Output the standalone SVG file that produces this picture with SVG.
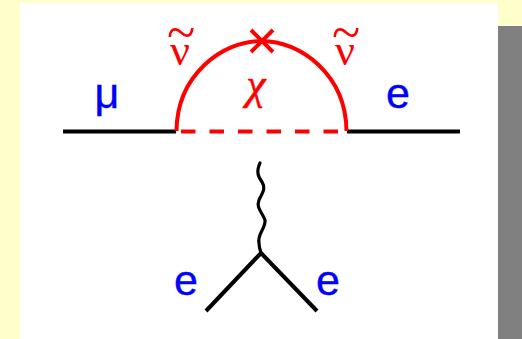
<svg xmlns="http://www.w3.org/2000/svg" width="522" height="339" viewBox="0 0 522 339">
<style>
.blk{fill:none;stroke:#000;stroke-width:4;stroke-linecap:butt}
.red{fill:none;stroke:#f00;stroke-width:4}
.lb{font-family:"Liberation Sans",Arial,sans-serif;font-size:43px;fill:#00f;stroke:#00f;stroke-width:.4;text-anchor:middle}
.gr{font-family:"Liberation Serif","Times New Roman",serif;fill:#f00;text-anchor:middle;font-size:44px}
</style>
<rect width="522" height="339" fill="#ffffcc"/>
<rect x="20" y="3" width="478" height="336" fill="#fff"/>
<rect x="498" y="26" width="24" height="313" fill="#808080"/>
<g id="connectors">
<path class="blk" d="M63 131.500H176"/>
<path class="blk" d="M347 131.500H460"/>
<path class="red" d="M176.500 131C177 75 222 41 261.500 41C301 41 346 75 346.500 131"/>
<path class="red" d="M181 131.500H342" stroke-dasharray="14.500 14"/>
<path class="red" stroke-width="5" d="M251 30L273 52M273 30L251 52"/>
<path d="M260 163C256 172 258 176 262 182C266 188 263 192 259 200C256 208 262 212 265 220C266 228 257 234 259 243C259 247 260 250 261 253" fill="none" stroke="#000" stroke-width="3.200" stroke-linecap="round"/>
<path class="blk" d="M206 311L261 253L317 311" stroke-linecap="round"/>
</g>
<g id="label-mu"><text class="lb" x="107" y="108">μ</text></g>
<g id="label-e-top"><text class="lb" x="398" y="108">e</text></g>
<g id="label-e-left"><text class="lb" x="186" y="295">e</text></g>
<g id="label-e-right"><text class="lb" x="328" y="295">e</text></g>
<g id="label-nu-left"><text class="gr"><tspan x="180" y="65">ν</tspan><tspan x="181" y="50" font-size="52">~</tspan></text></g>
<g id="label-nu-right"><text class="gr"><tspan x="345" y="65">ν</tspan><tspan x="346" y="50" font-size="52">~</tspan></text></g>
<g id="label-chi"><text class="gr" x="256" y="99" font-size="41" font-style="italic" stroke="#f00" stroke-width=".5">χ</text></g>
</svg>
